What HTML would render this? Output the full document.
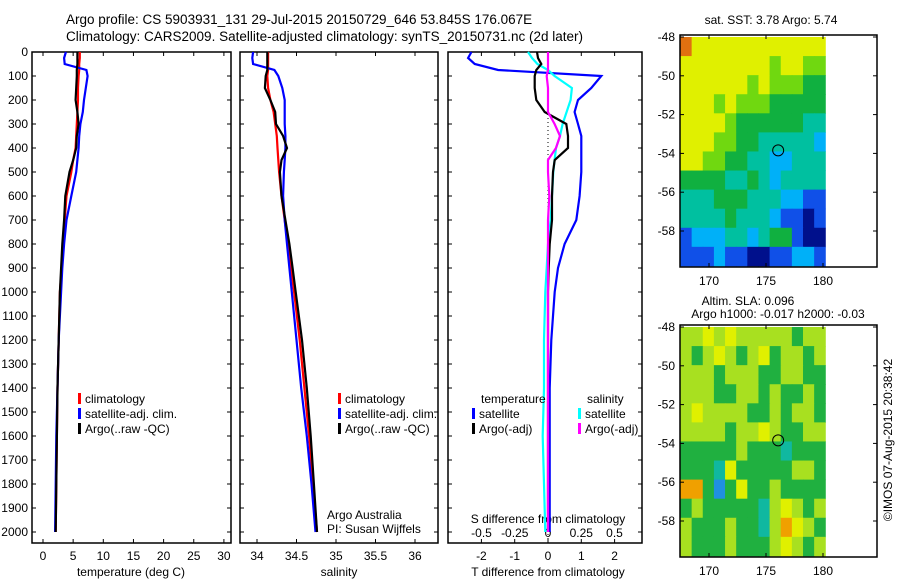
<!DOCTYPE html>
<html><head><meta charset="utf-8"><style>
body{margin:0;background:#fff}
svg{display:block;font-family:"Liberation Sans",sans-serif}
text{font-size:12px;fill:#000}
</style></head><body>
<svg id="s" width="900" height="580" viewBox="0 0 900 580">
<text x="66" y="24" style="font-size:13.5px">Argo profile: CS 5903931_131 29-Jul-2015 20150729_646 53.845S 176.067E</text>
<text x="66" y="41" style="font-size:13.5px">Climatology: CARS2009. Satellite-adjusted climatology: synTS_20150731.nc (2d later)</text>
</svg>
<script>
const depths=[0,25,50,75,100,150,200,250,300,350,400,450,500,600,700,800,900,1000,1200,1400,1600,1800,2000];
const climT=[6.1,6.1,6.0,6.0,5.9,5.8,5.8,5.7,5.6,5.5,5.4,5.0,4.7,3.9,3.6,3.3,3.1,2.8,2.6,2.4,2.3,2.2,2.1];
const argoT=[5.7,5.7,5.7,5.6,5.6,5.5,5.4,5.7,5.9,5.6,5.5,5.0,4.4,3.7,3.5,3.2,3.0,2.8,2.6,2.4,2.3,2.2,2.1];
const satT=[3.8,3.5,3.6,7.2,7.4,7.1,6.8,6.6,6.2,6.0,5.9,5.7,5.5,4.7,3.9,3.5,3.2,3.0,2.6,2.4,2.2,2.1,2.0];
const climS=[34.14,34.14,34.14,34.14,34.13,34.14,34.17,34.21,34.23,34.25,34.26,34.27,34.28,34.31,34.35,34.39,34.43,34.47,34.54,34.6,34.66,34.71,34.76];
const argoS=[34.13,34.13,34.13,34.13,34.11,34.10,34.17,34.23,34.24,34.33,34.38,34.31,34.29,34.31,34.36,34.41,34.45,34.49,34.57,34.63,34.68,34.72,34.76];
const satS=[33.95,33.94,33.95,34.22,34.27,34.32,34.35,34.35,34.35,34.36,34.36,34.35,34.34,34.33,34.35,34.38,34.41,34.44,34.5,34.56,34.63,34.69,34.74];
const satTdiff=[-2.3,-2.4,-2.2,-1.5,1.6,1.3,0.9,0.8,0.9,1.0,1.0,1.0,1.0,0.95,0.85,0.5,0.3,0.2,0.1,0.05,0.05,0.05,0.05];
const argoTdiff=[-0.33,-0.3,-0.2,-0.35,-0.4,-0.4,-0.35,-0.1,0.55,0.6,0.6,0.2,0.15,0.12,0.12,0.05,0.02,0,0,0,0,0,0];
const satSdiff=[-0.15,-0.12,-0.08,0.0,0.05,0.18,0.17,0.14,0.11,0.09,0.06,0.05,0.04,0.03,0.02,0.0,-0.01,-0.02,-0.03,-0.03,-0.04,-0.03,-0.02];
const argoSdiff=[0.0,0.0,0.0,0.0,-0.01,0.0,0.0,0.0,0.05,0.09,0.06,0.0,0.0,0.01,0.0,0.0,0.0,0.0,0.0,0.0,0.0,0.0,0.0];
const depthTicks=[0,100,200,300,400,500,600,700,800,900,1000,1100,1200,1300,1400,1500,1600,1700,1800,1900,2000];
const tTicks=[0,5,10,15,20,25,30];
const sTicks=[34,34.5,35,35.5,36];
const tdTicks=[-2,-1,0,1,2];
const sdTicks=[-0.5,-0.25,0,0.25,0.5];
const sdLabels=["-0.5","-0.25","0","0.25","0.5"];
const lonTicks=[170,175,180];
const latTicks=[-48,-50,-52,-54,-56,-58];
const sstGrid=[
[7,6,6,6,6,6,6,6,6,6,6,6,6],[6,6,6,6,6,6,6,6,5,6,6,5,5],[6,6,6,6,6,6,5,6,5,5,5,4,4],[6,6,6,5,6,5,5,5,4,4,4,4,4],
[6,6,6,6,5,4,4,4,4,4,4,3,3],[6,6,6,5,5,4,4,3,3,3,3,3,2],[6,6,5,5,4,4,3,3,2,2,3,3,3],[4,4,4,4,3,3,4,3,2,3,3,3,3],
[3,3,3,4,4,4,3,3,3,2,2,1,1],[3,3,3,3,4,3,3,3,2,1,1,0,1],[1,2,2,2,3,3,2,3,4,4,1,0,0],[1,1,1,2,1,1,0,0,1,1,2,2,1]];
const slaGrid=[
[4,4,5,4,5,4,4,4,4,4,3,4,4],[4,3,4,5,4,3,4,5,3,4,4,3,4],[4,4,4,3,4,4,4,3,3,4,4,3,3],[4,4,4,3,3,4,4,3,4,3,3,4,3],
[4,5,4,4,4,4,3,3,4,3,4,4,3],[4,4,4,4,3,4,4,5,4,3,3,4,4],[3,3,3,3,3,4,3,3,3,2,3,3,3],[3,3,3,2,5,3,3,3,3,3,4,4,3],
[6,6,3,1,3,5,3,3,4,3,3,3,3],[3,4,3,3,3,3,3,2,4,5,4,3,4],[4,3,3,3,4,3,3,2,4,6,5,4,3],[4,3,3,3,4,3,3,3,4,5,4,3,4]];
const sstCols=["#00108c","#1050e8","#00b0f8","#00c0a0","#10b040","#70d810","#e0f000","#e07010"];
const slaCols=["#0050e0","#2090e0","#10b8a0","#20b040","#a8e020","#e0f000","#f0a000"];

const S=document.getElementById('s'),NS='http://www.w3.org/2000/svg';
function mk(t,a,txt){const e=document.createElementNS(NS,t);for(const k in a)e.setAttribute(k,a[k]);if(txt!==undefined)e.textContent=txt;S.appendChild(e);return e;}
const Y=d=>52+d*0.24;
function panel(name,x0,x1,y0,y1){
 const r=mk('rect',{x:x0,y:y0,width:x1-x0,height:y1-y0,fill:'none',stroke:'#000','stroke-width':1.5});
 
 
}
function line(xs,fx,col,name,w){
 const pts=depths.map((d,i)=>fx(xs[i]).toFixed(1)+','+Y(d).toFixed(1)).join(' ');
 const p=mk('polyline',{points:pts,fill:'none',stroke:col,'stroke-width':w||2.2});
 
 
}
function txt(x,y,s,name,anchor,size){
 const t=mk('text',{x:x,y:y,'text-anchor':anchor||'start'},s);
 if(size)t.style.fontSize=size+'px';
 
 
 return t;
}
function tick(x1,y1,x2,y2){const l=mk('line',{x1,y1,x2,y2,stroke:'#000','stroke-width':1});}
const P=[[32,231],[240,438],[448,642]];
P.forEach((p,i)=>{panel('profile-panel-'+(i+1),p[0],p[1],52,543);
 depthTicks.forEach(d=>{tick(p[0],Y(d),p[0]+4,Y(d));tick(p[1]-4,Y(d),p[1],Y(d));});});
depthTicks.forEach(d=>txt(28,Y(d)+4,String(d),'depth-tick-label','end'));
const xT=v=>43+6.03*v, xS=v=>257+(v-34)*79, xTd=v=>548+33.3*v, xSd=v=>548+133*v;
tTicks.forEach(v=>{tick(xT(v),543,xT(v),539);tick(xT(v),52,xT(v),56);txt(xT(v),560,String(v),'temp-tick-label','middle');});
sTicks.forEach(v=>{tick(xS(v),543,xS(v),539);tick(xS(v),52,xS(v),56);txt(xS(v),560,String(v),'sal-tick-label','middle');});
tdTicks.forEach(v=>{tick(xTd(v),543,xTd(v),539);tick(xTd(v),52,xTd(v),56);txt(xTd(v),560,String(v),'tdiff-tick-label','middle');});
sdTicks.forEach((v,i)=>{txt(xSd(v),537,sdLabels[i],'sdiff-tick-label','middle');});
txt(131,576,'temperature (deg C)','x-axis-title-temperature','middle');
txt(339,576,'salinity','x-axis-title-salinity','middle');
txt(548,576,'T difference from climatology','x-axis-title-tdiff','middle');
txt(548,523,'S difference from climatology','x-axis-title-sdiff','middle');
const z=mk('line',{x1:548,y1:110,x2:548,y2:540,stroke:'#000','stroke-dasharray':'1,3'});
line(climT,xT,'#f00','temp-climatology');line(satT,xT,'#00f','temp-satellite');line(argoT,xT,'#000','temp-argo');
line(climS,xS,'#f00','sal-climatology');line(satS,xS,'#00f','sal-satellite');line(argoS,xS,'#000','sal-argo');
line(satTdiff,xTd,'#00f','tdiff-satellite');line(satSdiff,xSd,'#0ff','sdiff-satellite');line(argoTdiff,xTd,'#000','tdiff-argo');line(argoSdiff,xSd,'#f0f','sdiff-argo');
function leg(x,y,col,s,name){const r=mk('rect',{x:x,y:y-10,width:3,height:11,fill:col});txt(x+7,y,s,name);}
[[78],[338]].forEach((l,i)=>{leg(l[0],403,'#f00','climatology','legend-climatology');leg(l[0],418,'#00f','satellite-adj. clim.','legend-satellite');leg(l[0],433,'#000','Argo(..raw -QC)','legend-argo');});
txt(481,403,'temperature','legend-temperature-header');txt(587,403,'salinity','legend-salinity-header');
leg(472,418,'#00f','satellite','legend-tdiff-satellite');leg(472,433,'#000','Argo(-adj)','legend-tdiff-argo');
leg(578,418,'#0ff','satellite','legend-sdiff-satellite');leg(578,433,'#f0f','Argo(-adj)','legend-sdiff-argo');
txt(327,519,'Argo Australia','credit-argo-australia');txt(327,533,'PI: Susan Wijffels','credit-pi');
const lonX=v=>709+(v-170)*11.4;
function map(grid,cols,y0,name){
 const latY=v=>y0+2+(-48-v)*19.4;
 const cw=(lonX(180.2)-lonX(167.5))/13, ch=(latY(-59.8)-latY(-48))/12;
 grid.forEach((row,r)=>row.forEach((v,c)=>{const e=mk('rect',{x:(lonX(167.5)+c*cw).toFixed(2),y:(latY(-48)+r*ch).toFixed(2),width:(cw+0.5).toFixed(2),height:(ch+0.5).toFixed(2),fill:cols[v]});
  }));
 panel(name,680,877,y0,y0+232);
 lonTicks.forEach(v=>{tick(lonX(v),y0+232,lonX(v),y0+228);tick(lonX(v),y0,lonX(v),y0+4);txt(lonX(v),y0+250,String(v),name+'-lon-label','middle');});
 latTicks.forEach(v=>{tick(680,latY(v),684,latY(v));tick(873,latY(v),877,latY(v));txt(675,latY(v)+4,String(v),name+'-lat-label','end');});
 const c=mk('circle',{cx:lonX(176.067),cy:latY(-53.845),r:5.5,fill:'none',stroke:'#000'});
}
map(sstGrid,sstCols,35,'sst-map');
map(slaGrid,slaCols,325,'sla-map');
txt(771,24,'sat. SST: 3.78 Argo: 5.74','sst-map-title','middle');
txt(748,305,'Altim. SLA: 0.096','sla-map-title-1','middle');
txt(778,318,'Argo h1000: -0.017 h2000: -0.03','sla-map-title-2','middle');
const rt=txt(0,0,'©IMOS 07-Aug-2015 20:38:42','timestamp','middle');
rt.setAttribute('transform','translate(892,440) rotate(-90)');
</script>
</body></html>
